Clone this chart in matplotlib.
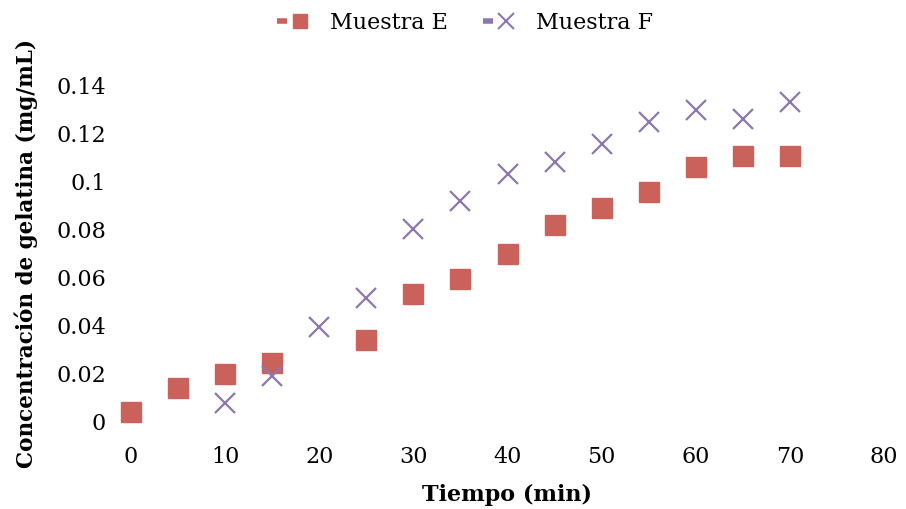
import matplotlib
matplotlib.use("Agg")
import matplotlib.pyplot as plt
from matplotlib.lines import Line2D
from matplotlib.legend_handler import HandlerTuple
from matplotlib.ticker import FuncFormatter, MultipleLocator

# Data
tiempo_E = [0, 5, 10, 15, 25, 30, 35, 40, 45, 50, 55, 60, 65, 70]
conc_E = [0.004, 0.014, 0.020, 0.0245, 0.034, 0.053, 0.0595, 0.070, 0.082, 0.089, 0.0955, 0.106, 0.1105, 0.1105]
tiempo_F = [10, 15, 20, 25, 30, 35, 40, 45, 50, 55, 60, 65, 70]
conc_F = [0.008, 0.019, 0.0395, 0.0515, 0.080, 0.092, 0.103, 0.108, 0.1155, 0.1245, 0.1295, 0.126, 0.133]
series_names = ["Muestra E", "Muestra F"]
x_label = "Tiempo (min)"
y_label = "Concentración de gelatina (mg/mL)"

col_E = "#CB615B"
col_F = "#8C77AE"

plt.rcParams['font.family'] = ['DejaVu Serif']

fig = plt.figure(figsize=(9.06, 5.09), dpi=100)
ax = fig.add_axes([131/906, 1-422/509, 753/906, (422-85)/509])

ax.plot(tiempo_E, conc_E, linestyle='none', marker='s', markersize=15,
        color=col_E, markeredgecolor=col_E, clip_on=False, zorder=3)
ax.plot(tiempo_F, conc_F, linestyle='none', marker='x', markersize=15,
        markeredgewidth=1.6, color=col_F, clip_on=False, zorder=4)

ax.set_xlim(0, 80)
ax.set_ylim(0, 0.14)
ax.xaxis.set_major_locator(MultipleLocator(10))
ax.yaxis.set_major_locator(MultipleLocator(0.02))
ax.yaxis.set_major_formatter(FuncFormatter(lambda v, p: f"{v:g}" if abs(v) > 1e-9 else "0"))
for s in ax.spines.values():
    s.set_visible(False)
ax.tick_params(axis='both', length=0, labelsize=16, colors='black')
ax.tick_params(axis='x', pad=17)
ax.tick_params(axis='y', pad=18)

ax.set_xlabel(x_label, fontsize=16, fontweight='bold', labelpad=12)
ax.set_ylabel(y_label, fontsize=15.5, fontweight='bold', labelpad=13)

# Legend (Excel-like: short dash + marker)
hE = (Line2D([], [], linestyle='none', marker='_', markersize=7, markeredgewidth=4, color=col_E),
      Line2D([], [], linestyle='none', marker='s', markersize=10.5, color=col_E))
hF = (Line2D([], [], linestyle='none', marker='_', markersize=7, markeredgewidth=4, color=col_F),
      Line2D([], [], linestyle='none', marker='x', markersize=11, markeredgewidth=1.5, color=col_F))
fig.legend([hE, hF], series_names, loc='center', bbox_to_anchor=(463/906, 1-23/509),
           ncol=2, frameon=False, fontsize=16, handler_map={tuple: HandlerTuple(ndivide=None, pad=0.0)},
           handlelength=1.6, columnspacing=1.4, handletextpad=0.95)

fig.savefig("out.png", dpi=100)
